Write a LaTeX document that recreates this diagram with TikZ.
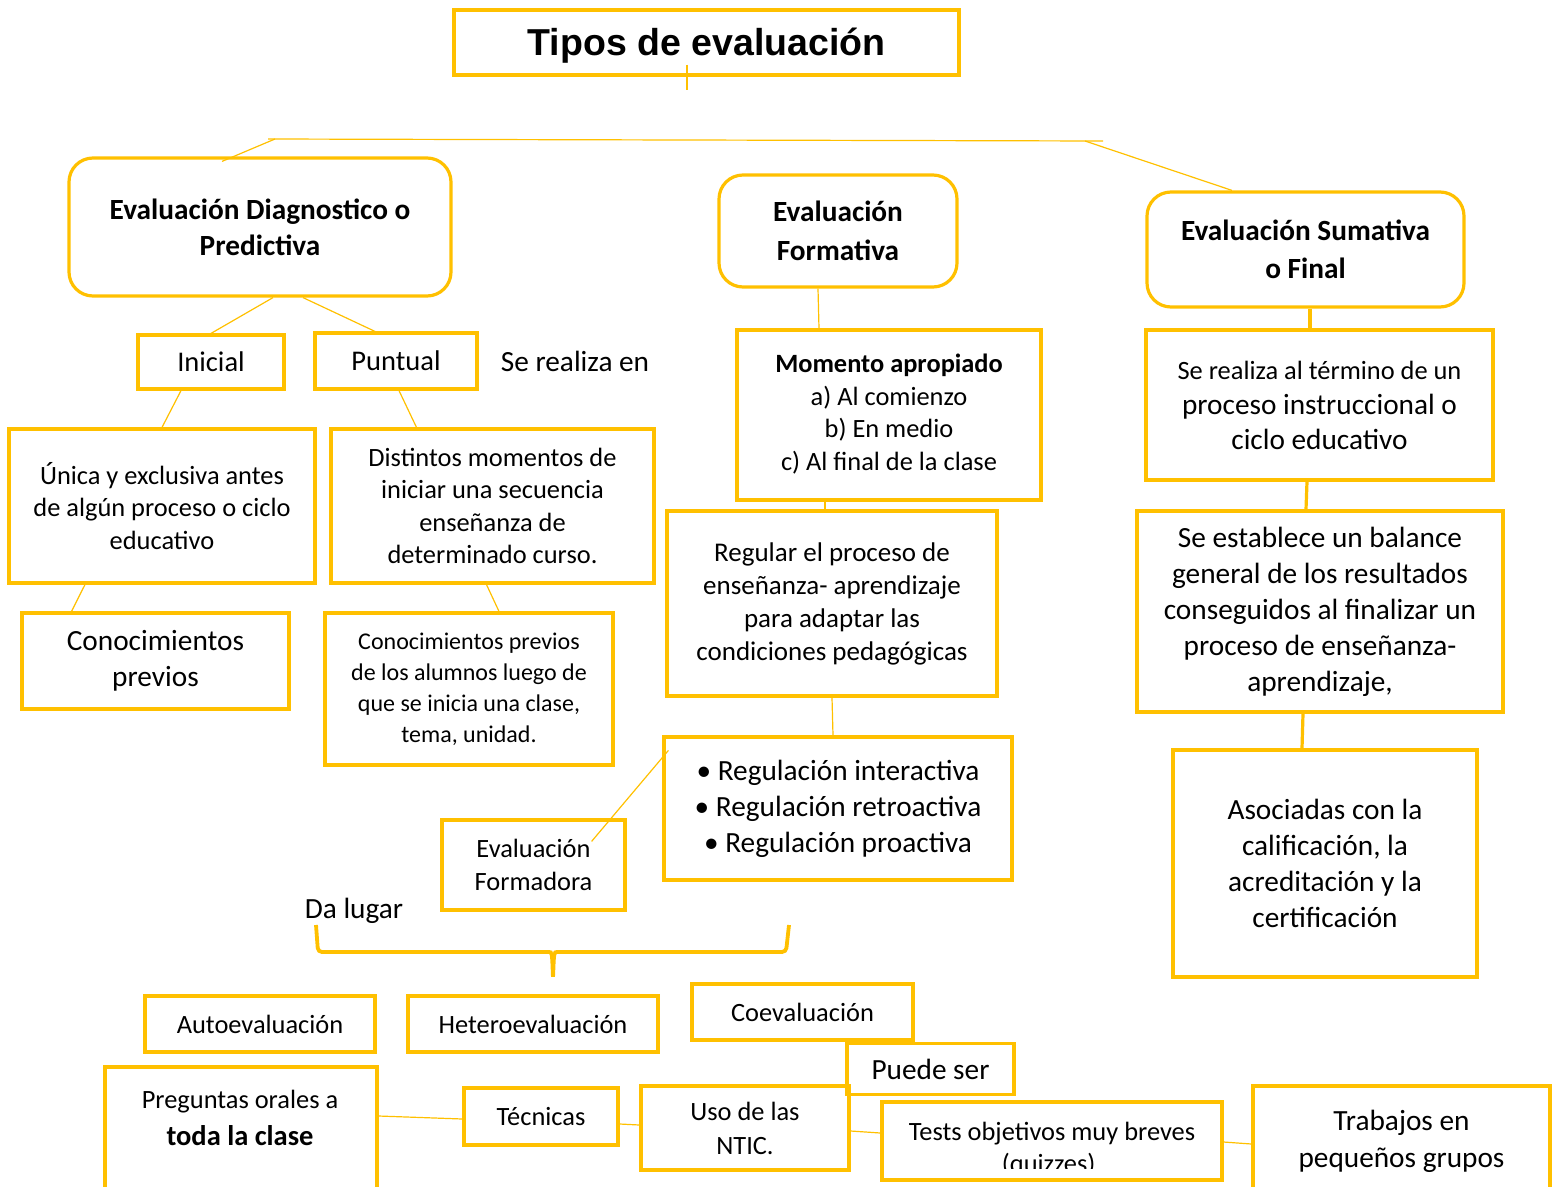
\documentclass[tikz,border=0pt]{standalone}
\usepackage{fontspec}
\setmainfont{Carlito}
\newfontfamily\titlefont{Liberation Sans}
\usetikzlibrary{calc}
\definecolor{gold}{HTML}{FFC000}
\newcommand\txtsm{\fontsize{26.4}{32.5}\selectfont}
\newcommand\txtlg{\fontsize{29.3}{36}\selectfont}
\tikzset{
  box/.style={draw=gold, line width=3.2pt, inner sep=0pt, align=center},
  rbox/.style={box, rounded corners=24pt},
  link/.style={draw=gold, line width=1.2pt},
  trunk/.style={draw=gold, line width=3.2pt},
}

\begin{document}
\begin{tikzpicture}[x=1pt,y=-1pt]
		\useasboundingbox (0,0) rectangle (1558,1186);
		\clip (0,0) rectangle (1558,1186);
		%%%%% START %%%%%
		\node[box, minimum width=505, minimum height=65, text depth=2pt, font=\titlefont\fontsize{37.5}{44}\selectfont\bfseries] (title) at (706.5,42.5) {Tipos de evaluación};
		
		\coordinate (barL) at (268,139);
		\coordinate (barR) at (1103,141);
		\coordinate (forkL) at (275,139);
		\coordinate (forkR) at (1085,141);
		
		\node[rbox, minimum width=382, minimum height=138, font=\txtlg\bfseries] (diag) at (260,227) {Evaluación Diagnostico o\\Predictiva};
		\node[rbox, minimum width=238, minimum height=112, font=\fontsize{29.3}{39}\selectfont\bfseries] (form) at (838,231) {Evaluación\\Formativa};
		\node[rbox, minimum width=317, minimum height=115, font=\fontsize{29.3}{38}\selectfont\bfseries] (suma) at (1305.5,249.5) {Evaluación Sumativa\\o Final};
		
		% diagnostica
		\node[box, minimum width=146, minimum height=54, font=\fontsize{28.5}{34}\selectfont] (inicial) at (211,362) {Inicial};
		\node[box, minimum width=162, minimum height=56, font=\fontsize{28.5}{34}\selectfont] (puntual) at (396,361) {Puntual};
		\node[font=\txtlg] (realiza) at (575,361) {Se realiza en};
		\node[box, minimum width=306, minimum height=154, font=\txtsm] (unica) at (162,506) {Única y exclusiva antes\\de algún proceso o ciclo\\educativo};
		\node[box, minimum width=323, minimum height=154, font=\txtsm] (distintos) at (492.5,506) {Distintos momentos de\\iniciar una secuencia\\enseñanza de\\determinado curso.};
		\node[box, minimum width=267, minimum height=96, font=\txtlg] (previos) at (155.5,661) {Conocimientos\\previos};
		\node[box, minimum width=288, minimum height=152, font=\fontsize{24}{31}\selectfont] (alumnos) at (469,689) {Conocimientos previos\\de los alumnos luego de\\que se inicia una clase,\\tema, unidad.};
		
		% formativa
		\node[box, minimum width=304, minimum height=170, text depth=6pt, font=\txtsm] (momento) at (889,415) {\textbf{Momento apropiado}\\a) Al comienzo\\b) En medio\\c) Al final de la clase};
		\node[box, minimum width=330, minimum height=185, font=\fontsize{27}{33}\selectfont] (regular) at (832,603.5) {Regular el proceso de\\enseñanza- aprendizaje\\para adaptar las\\condiciones pedagógicas};
		\node[box, minimum width=348, minimum height=143, font=\txtlg] (regula) at (838,808.5) {• Regulación interactiva\\• Regulación retroactiva\\• Regulación proactiva};
		\node[box, minimum width=183, minimum height=90, font=\txtsm] (formadora) at (533.5,865) {Evaluación\\Formadora};
		\node[font=\txtlg] (dalugar) at (354,911) {Da lugar};
		
		% sumativa
		\node[box, minimum width=347, minimum height=150, font=\fontsize{29.3}{35}\selectfont] (termino) at (1319.5,405) {{\txtsm Se realiza al término de un}\\proceso instruccional o\\ciclo educativo};
		\node[box, minimum width=366, minimum height=201, font=\txtlg] (balance) at (1320,611.5) {Se establece un balance\\general de los resultados\\conseguidos al finalizar un\\proceso de enseñanza-\\aprendizaje,};
		\node[box, minimum width=304, minimum height=227, font=\txtlg] (asociadas) at (1325,863.5) {Asociadas con la\\calificación, la\\acreditación y la\\certificación};
		
		% abajo
		\node[box, minimum width=230, minimum height=56, font=\txtsm] (auto) at (260,1024) {Autoevaluación};
		\node[box, minimum width=250, minimum height=56, font=\txtsm] (hetero) at (533,1024) {Heteroevaluación};
		\node[box, minimum width=221, minimum height=56, font=\txtsm] (coev) at (802.5,1012) {Coevaluación};
		\node[box, minimum width=167, minimum height=51, font=\txtlg] (puede) at (930.5,1069) {Puede ser};
		\node[box, minimum width=272, minimum height=129] (preg) at (241,1131.5) {};
		\node[font=\fontsize{26.4}{37}\selectfont, align=center] (pregtxt) at (240,1118) {Preguntas orales a\\{\fontsize{28.5}{37}\selectfont\bfseries toda la clase}};
		\node[box, minimum width=154, minimum height=57, font=\txtsm] (tecnicas) at (541,1116.5) {Técnicas};
		\node[box, minimum width=208, minimum height=84, font=\fontsize{26.4}{34}\selectfont] (ntic) at (745,1128) {Uso de las\\NTIC.};
		\node[box, minimum width=340, minimum height=78] (tests) at (1052,1141) {};
		\begin{scope}
			\clip (tests.north west) rectangle ([yshift=13]tests.south east);
			\node[font=\fontsize{26.4}{32}\selectfont, align=center] (teststxt) at (1052,1149) {Tests objetivos muy breves\\(quizzes).};
		\end{scope}
		\node[box, minimum width=297, minimum height=110, font=\fontsize{29.3}{37}\selectfont] (trabajos) at (1401.5,1141) {Trabajos en\\pequeños grupos};
		
		% lineas
		\draw[link] ([xshift=-19.5,yshift=12]title.south) -- ++(0,25);
		\draw[link] (barL) -- (barR);
		\draw[link] (forkL) -- ([xshift=-38,yshift=-5]diag.north);
		\draw[link] (forkR) -- ([xshift=-73.5]suma.north);
		
		\draw[link] ([xshift=13]diag.south) -- (inicial.north);
		\draw[link] ([xshift=43]diag.south) -- ([xshift=-21]puntual.north);
		\draw[link] ([xshift=-30]inicial.south) -- (unica.north);
		\draw[link] ([xshift=3]puntual.south) -- ([xshift=-76]distintos.north);
		\draw[link] ([xshift=-77]unica.south) -- ([xshift=-84]previos.north);
		\draw[link] ([xshift=-6]distintos.south) -- ([xshift=30]alumnos.north);
		
		\draw[link] ([xshift=-20]form.south) -- ([xshift=-70]momento.north);
		\draw[link] ([xshift=-64]momento.south) -- ([xshift=-7]regular.north);
		\draw[link] (regular.south) -- ([xshift=-5]regula.north);
		\draw[link] ([shift={(6,15)}]regula.north west) -- ([shift={(-35,23)}]formadora.north east);
		
		\draw[trunk] ([xshift=4.5]suma.south) -- ([xshift=-9.5]termino.north);
		\draw[trunk] ([xshift=-12.5]termino.south) -- ([xshift=-14]balance.north);
		\draw[trunk] ([xshift=-17]balance.south) -- ([xshift=-23]asociadas.north);
		
		\draw[link] ([yshift=15.5]preg.east) -- ([yshift=-2.5]tecnicas.west);
		\draw[link] ([yshift=-7.5]tecnicas.east) -- ([yshift=3]ntic.west);
		\draw[link] ([yshift=-3]ntic.east) -- ([yshift=8]tests.west);
		\draw[link] ([yshift=-1]tests.east) -- ([yshift=-3]trabajos.west);
		
		% llave
		\draw[gold, line width=3.8pt, rounded corners=4pt] (316,925) -- (318,952) -- (545,952) .. controls (552,952) .. (553,979) .. controls (554,952) .. (561,952) -- (786,952) -- (789,925);
		%%%%% END %%%%%
\end{tikzpicture}
\end{document}
